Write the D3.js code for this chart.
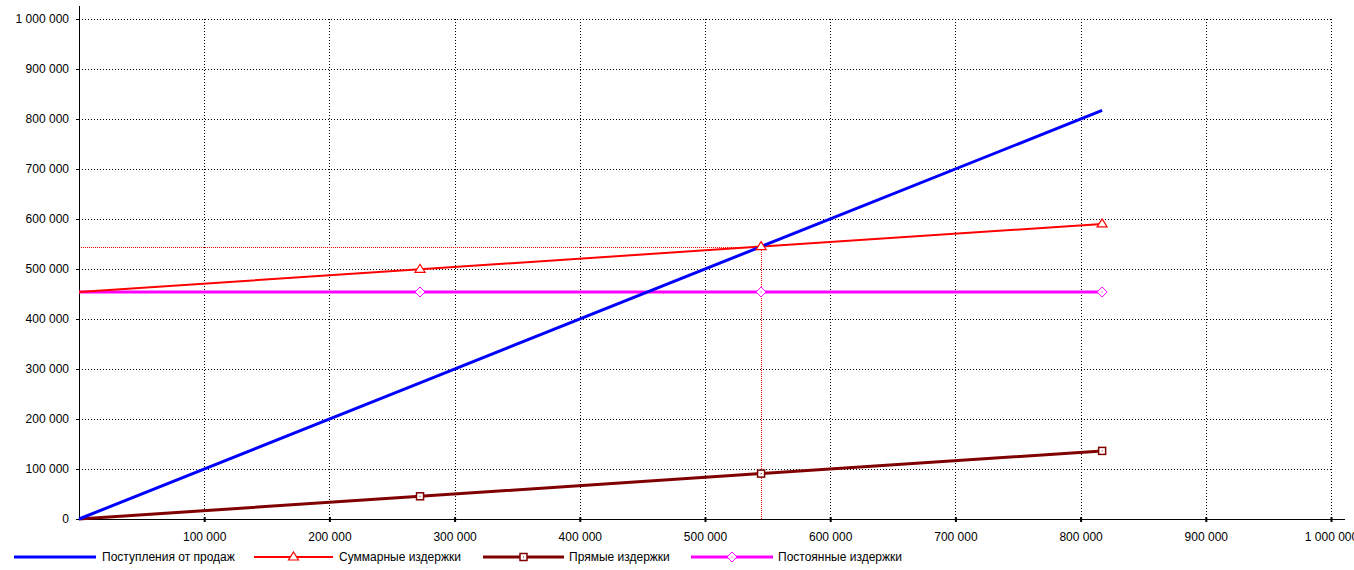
<!DOCTYPE html>
<html><head><meta charset="utf-8">
<script src="https://cdn.jsdelivr.net/npm/d3@7/dist/d3.min.js"></script>
<style>
html,body{margin:0;padding:0;background:#fff;}
svg{display:block;font-family:"Liberation Sans",Arial,sans-serif;font-size:12px;}
</style></head><body>
<svg id="c" width="1354" height="570"></svg>
<script>
// Data
const volume = [0, 272400, 544800, 817200];
const revenue = [0, 272400, 544800, 817200];
const totalCosts = [454000, 499400, 544800, 590200];
const directCosts = [0, 45400, 90800, 136200];
const fixedCosts = [454000, 454000, 454000, 454000];
const breakEven = {x: 544800, y: 544800};
const xTicks = [100000,200000,300000,400000,500000,600000,700000,800000,900000,1000000];
const yTicks = [0,100000,200000,300000,400000,500000,600000,700000,800000,900000,1000000];
const seriesNames = ["Поступления от продаж","Суммарные издержки","Прямые издержки","Постоянные издержки"];

const svg = d3.select("#c");
const x = d3.scaleLinear().domain([0,1000000]).range([79,1331]);
const y = d3.scaleLinear().domain([0,1000000]).range([519,19]);
const fmt = v => d3.format(",")(v).replace(/,/g," ");

// grid
const g = svg.append("g").attr("shape-rendering","crispEdges");
g.selectAll(".hg").data(yTicks.filter(d=>d>0)).enter().append("line")
  .attr("x1",x(0)).attr("x2",x(1000000)).attr("y1",d=>Math.round(y(d))+0.5).attr("y2",d=>Math.round(y(d))+0.5)
  .attr("stroke","#000").attr("stroke-dasharray","1,2");
g.selectAll(".vg").data(xTicks).enter().append("line")
  .attr("x1",d=>Math.round(x(d))+0.5).attr("x2",d=>Math.round(x(d))+0.5).attr("y1",y(1000000)).attr("y2",y(0))
  .attr("stroke","#000").attr("stroke-dasharray","1,2");

// break-even guide lines
const bx = Math.round(x(breakEven.x))+0.5, by = Math.round(y(breakEven.y))+0.5;
g.append("line").attr("x1",x(0)).attr("x2",bx).attr("y1",by).attr("y2",by)
  .attr("stroke","#ff0000").attr("stroke-dasharray","1,1");
g.append("line").attr("x1",bx).attr("x2",bx).attr("y1",by).attr("y2",y(0))
  .attr("stroke","#ff0000").attr("stroke-dasharray","1,1");

// axes
const xAxis = d3.axisBottom(x).tickValues(xTicks).tickFormat(fmt).tickSize(3).tickPadding(10);
const ax = svg.append("g").attr("transform",`translate(0,${y(0)})`).call(xAxis);
ax.select(".domain").remove();
ax.append("line").attr("x1",x(0)).attr("x2",1345).attr("y1",0.5).attr("y2",0.5).attr("stroke","#000");
ax.selectAll(".tick line").attr("y1",-2).attr("y2",3).attr("stroke","#000").attr("stroke-width",2);
ax.selectAll("text").attr("fill","#000").style("font-size","12px").style("font-family","Liberation Sans, Arial, sans-serif");

const yAxis = d3.axisLeft(y).tickValues(yTicks).tickFormat(fmt).tickSize(3).tickPadding(7);
const ay = svg.append("g").attr("transform",`translate(${x(0)},0)`).call(yAxis);
ay.select(".domain").remove();
ay.append("line").attr("x1",0.5).attr("x2",0.5).attr("y1",6).attr("y2",y(0)+1).attr("stroke","#000");
ay.selectAll(".tick line").attr("stroke","#000");
ay.selectAll("text").attr("fill","#000").style("font-size","12px").style("font-family","Liberation Sans, Arial, sans-serif");

// series
const series = [
  {name:seriesNames[0], vals:revenue, color:"#0000ff", w:3, marker:null},
  {name:seriesNames[1], vals:totalCosts, color:"#ff0000", w:2, marker:"tri"},
  {name:seriesNames[2], vals:directCosts, color:"#800000", w:3, marker:"sq"},
  {name:seriesNames[3], vals:fixedCosts, color:"#ff00ff", w:3, marker:"dia"}
];
const line = d3.line().x((d,i)=>x(volume[i])).y(d=>y(d));
const drawOrder = [3,2,1,0];
drawOrder.forEach(k=>{
  const s = series[k];
  svg.append("path").datum(s.vals).attr("d",line).attr("fill","none")
    .attr("stroke",s.color).attr("stroke-width",s.w);
});

function marker(sel, type, cx, cy, color){
  if(type==="tri"){
    sel.append("path").attr("d",`M${cx},${cy-5}L${cx+5},${cy+3}L${cx-5},${cy+3}Z`)
      .attr("fill","#fff").attr("stroke",color).attr("stroke-width",1.2);
  } else if(type==="sq"){
    sel.append("rect").attr("x",cx-3.5).attr("y",cy-3.5).attr("width",7).attr("height",7)
      .attr("fill","#fff").attr("stroke",color).attr("stroke-width",1.5);
    sel.append("rect").attr("x",cx-0.5).attr("y",cy-0.5).attr("width",1).attr("height",1).attr("fill",color);
  } else if(type==="dia"){
    sel.append("path").attr("d",`M${cx},${cy-5}L${cx+5},${cy}L${cx},${cy+5}L${cx-5},${cy}Z`)
      .attr("fill","#fff").attr("stroke",color).attr("stroke-width",1);
    sel.append("rect").attr("x",cx-0.5).attr("y",cy-0.5).attr("width",1).attr("height",1).attr("fill",color);
  }
}
const mg = svg.append("g");
series.forEach(s=>{
  if(!s.marker) return;
  s.vals.forEach((v,i)=>{ if(i>0) marker(mg, s.marker, x(volume[i]), y(v), s.color); });
});

// legend
const legendPos = [{x1:14,x2:96,tx:102},{x1:254,x2:333,tx:339},{x1:483,x2:564,tx:569},{x1:691,x2:773,tx:778}];
const lg = svg.append("g");
const ly = 557;
series.forEach((s,i)=>{
  const p = legendPos[i];
  lg.append("line").attr("x1",p.x1).attr("x2",p.x2).attr("y1",ly).attr("y2",ly)
    .attr("stroke",s.color).attr("stroke-width",s.w);
  if(s.marker) marker(lg, s.marker, (p.x1+p.x2)/2, ly, s.color);
  lg.append("text").attr("x",p.tx).attr("y",ly+4).attr("fill","#000").text(s.name);
});
</script>
</body></html>
